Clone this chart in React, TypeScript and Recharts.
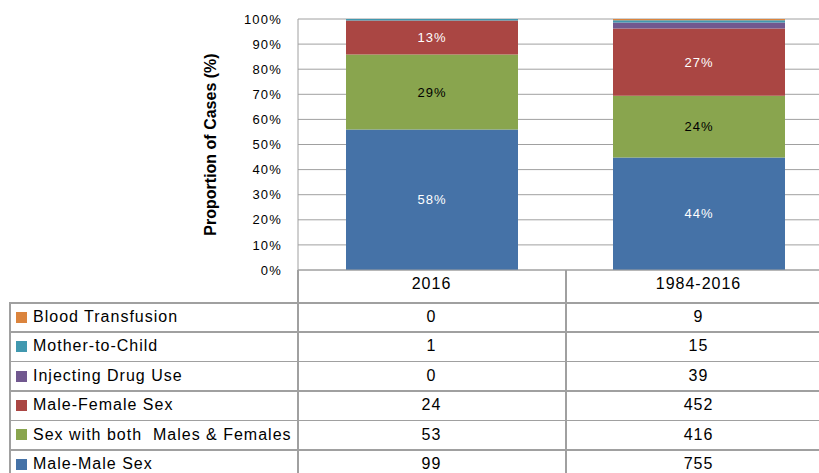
import React from 'react';
import {
  BarChart,
  Bar,
  XAxis,
  YAxis,
  CartesianGrid,
  LabelList,
} from 'recharts';

const categories = ['2016', '1984-2016'];

const maleMale = [99, 755];
const bothSexes = [53, 416];
const maleFemale = [24, 452];
const injectingDrug = [0, 39];
const motherChild = [1, 15];
const bloodTransfusion = [0, 9];

const maleMaleLabels = ['58%', '44%'];
const bothSexesLabels = ['29%', '24%'];
const maleFemaleLabels = ['13%', '27%'];

const yTicks = [0, 0.1, 0.2, 0.3, 0.4, 0.5, 0.6, 0.7, 0.8, 0.9, 1];

// table rows, top to bottom as in the reference
const tableRows = [
  { name: 'Blood Transfusion', color: '#DB843D', values: bloodTransfusion },
  { name: 'Mother-to-Child', color: '#4198AF', values: motherChild },
  { name: 'Injecting Drug Use', color: '#71588F', values: injectingDrug },
  { name: 'Male-Female Sex', color: '#AA4643', values: maleFemale },
  { name: 'Sex with both  Males & Females', color: '#89A54E', values: bothSexes },
  { name: 'Male-Male Sex', color: '#4572A7', values: maleMale },
];

const data = categories.map((category, i) => ({
  category,
  maleMale: maleMale[i],
  bothSexes: bothSexes[i],
  maleFemale: maleFemale[i],
  injectingDrug: injectingDrug[i],
  motherChild: motherChild[i],
  bloodTransfusion: bloodTransfusion[i],
  mmLabel: maleMaleLabels[i],
  bsLabel: bothSexesLabels[i],
  mfLabel: maleFemaleLabels[i],
}));

const FONT = '"Liberation Sans", Arial, sans-serif';
const LINE = '#a0a0a0';
const PLOT_LEFT = 298;
const PLOT_BOTTOM = 270;
const COL_SPLIT = 565;
const TABLE_TOP = 302;
const ROW_H = 29.4;

const fmtPct = (v: number) => `${Math.round(v * 100)}%`;

const barLabel = { fontSize: 13, fontFamily: FONT, style: { letterSpacing: 1 } };

export default function App() {
  return (
    <div
      style={{
        position: 'absolute',
        left: 0,
        top: 0,
        width: 819,
        height: 473,
        overflow: 'hidden',
        background: '#fff',
        fontFamily: FONT,
      }}
    >
      <BarChart
        width={832}
        height={473}
        data={data}
        stackOffset="expand"
        barSize={172}
        margin={{ top: 19, right: 0, left: 122, bottom: 171 }}
      >
        <CartesianGrid vertical={false} stroke={LINE} />
        <XAxis
          dataKey="category"
          height={32}
          tickLine={false}
          tickSize={0}
          tickMargin={8}
          axisLine={{ stroke: LINE }}
          tick={{ fill: '#000', fontSize: 16, fontFamily: FONT, style: { letterSpacing: 1 } }}
        />
        <YAxis
          width={176}
          domain={[0, 1]}
          ticks={yTicks}
          tickFormatter={fmtPct}
          tickLine={false}
          tickSize={6}
          tickMargin={10}
          axisLine={{ stroke: LINE }}
          tick={{ fill: '#000', fontSize: 13, fontFamily: FONT, style: { letterSpacing: 1.2 } }}
          label={{
            value: 'Proportion of Cases (%)',
            angle: -90,
            position: 'center',
            style: { fontSize: 16, fontWeight: 'bold', fill: '#000', fontFamily: FONT },
          }}
        />
        <Bar dataKey="maleMale" stackId="a" fill="#4572A7" isAnimationActive={false}>
          <LabelList dataKey="mmLabel" position="center" fill="#fff" {...barLabel} />
        </Bar>
        <Bar dataKey="bothSexes" stackId="a" fill="#89A54E" isAnimationActive={false}>
          <LabelList dataKey="bsLabel" position="center" fill="#000" {...barLabel} />
        </Bar>
        <Bar dataKey="maleFemale" stackId="a" fill="#AA4643" isAnimationActive={false}>
          <LabelList dataKey="mfLabel" position="center" fill="#fff" {...barLabel} />
        </Bar>
        <Bar dataKey="injectingDrug" stackId="a" fill="#71588F" isAnimationActive={false} />
        <Bar dataKey="motherChild" stackId="a" fill="#4198AF" isAnimationActive={false} />
        <Bar dataKey="bloodTransfusion" stackId="a" fill="#DB843D" isAnimationActive={false} />
      </BarChart>

      {/* axis continues into the header row, and the column divider */}
      <div style={{ position: 'absolute', left: PLOT_LEFT - 1, top: PLOT_BOTTOM, width: 1.5, height: TABLE_TOP - PLOT_BOTTOM, background: LINE }} />
      <div style={{ position: 'absolute', left: COL_SPLIT, top: PLOT_BOTTOM, width: 1.5, height: 473 - PLOT_BOTTOM, background: LINE }} />
      <div style={{ position: 'absolute', left: 9, top: TABLE_TOP, width: 1.5, height: 473 - TABLE_TOP, background: LINE }} />
      <div style={{ position: 'absolute', left: PLOT_LEFT - 1, top: TABLE_TOP, width: 1.5, height: 473 - TABLE_TOP, background: LINE }} />

      {tableRows.map((row, i) => {
        const top = TABLE_TOP + i * ROW_H;
        return (
          <React.Fragment key={row.name}>
            <div style={{ position: 'absolute', left: 9, top, width: 810, height: 1.5, background: LINE }} />
            <div
              style={{
                position: 'absolute',
                left: 16,
                top: top + ROW_H / 2 - 5,
                width: 11,
                height: 11,
                background: row.color,
              }}
            />
            <div
              style={{
                position: 'absolute',
                left: 33,
                top,
                height: ROW_H,
                lineHeight: `${ROW_H}px`,
                fontSize: 16,
                letterSpacing: 1,
                whiteSpace: 'pre',
                color: '#000',
              }}
            >
              {row.name}
            </div>
            {row.values.map((v, j) => (
              <div
                key={j}
                style={{
                  position: 'absolute',
                  left: j === 0 ? PLOT_LEFT : COL_SPLIT,
                  width: j === 0 ? COL_SPLIT - PLOT_LEFT : 267,
                  top,
                  height: ROW_H,
                  lineHeight: `${ROW_H}px`,
                  textAlign: 'center',
                  fontSize: 16,
                  letterSpacing: 1,
                  color: '#000',
                }}
              >
                {v}
              </div>
            ))}
          </React.Fragment>
        );
      })}
    </div>
  );
}
